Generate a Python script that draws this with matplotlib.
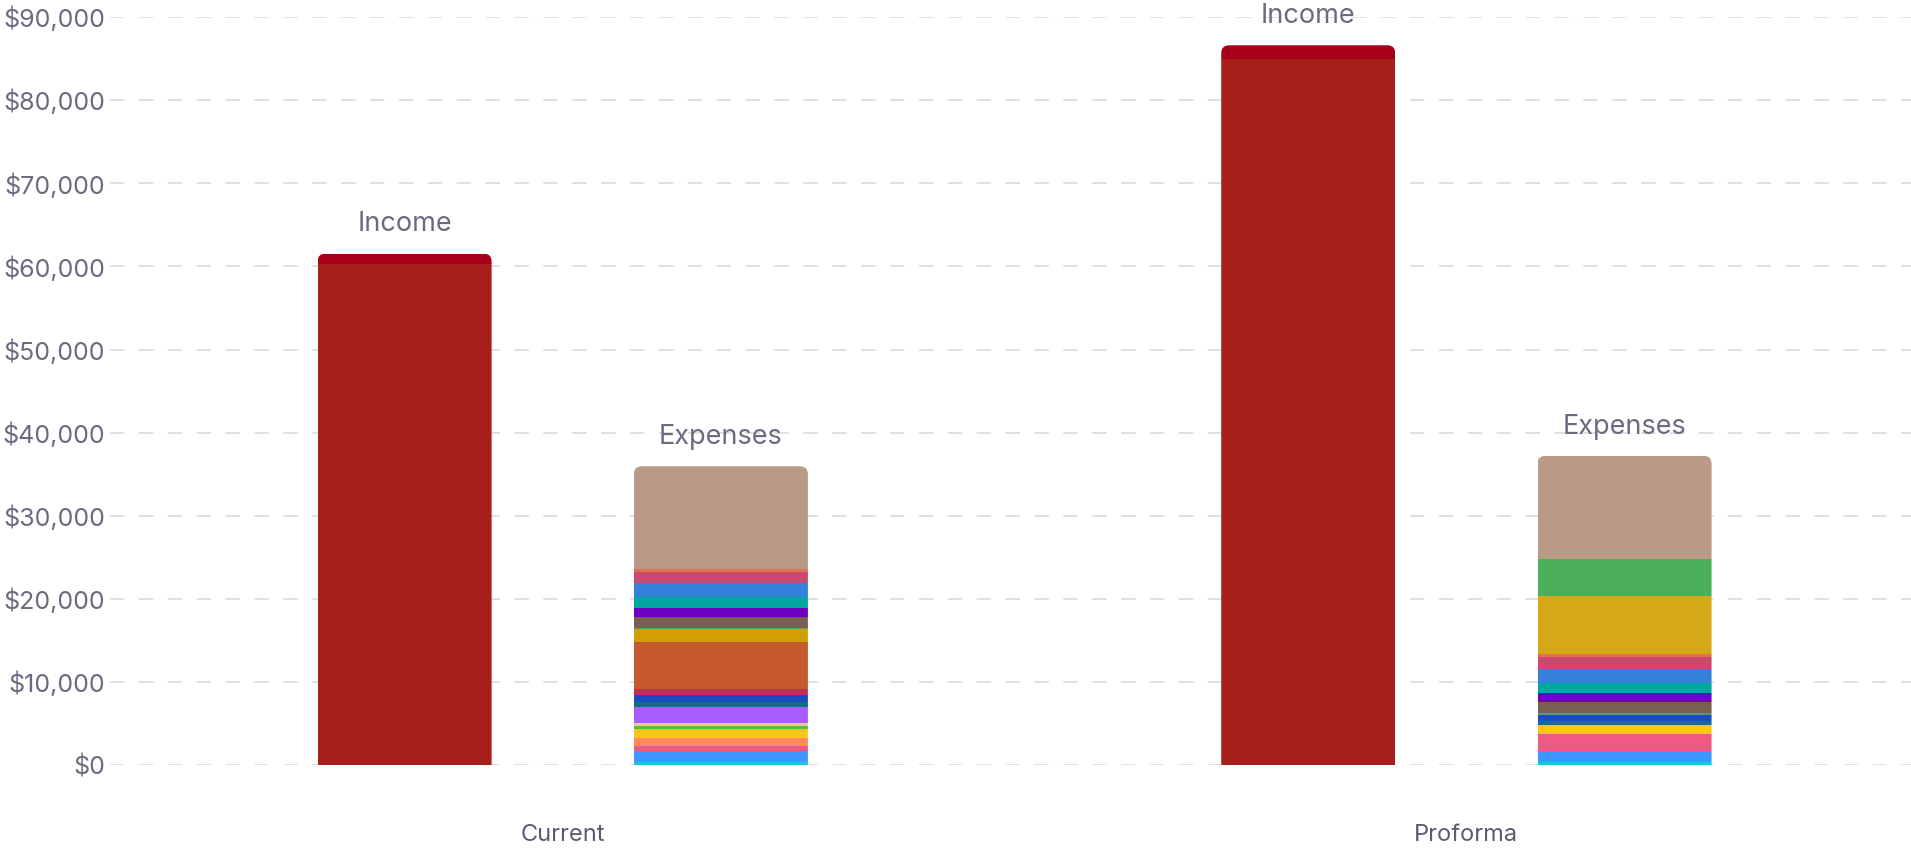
import numpy as np
import matplotlib.pyplot as plt
from matplotlib.patches import FancyBboxPatch
from matplotlib.ticker import FuncFormatter

plt.rcParams['font.family'] = ['Inter', 'DejaVu Sans']

groups = ["Current", "Proforma"]

income_main = [60300, 84900]
income_other = [1250, 1700]

# expense categories, bottom to top of the stack
expense_names = [
    "Utilities", "Water", "Repairs", "Supplies", "Trash", "Pest", "Landscaping",
    "Cleaning", "Advertising", "Legal", "Accounting", "Payroll", "Management",
    "Licenses", "Maintenance", "Turnover", "Internet", "Electric", "Gas",
    "Misc", "Reserves", "Capex", "Taxes & Insurance",
]
expense_current = [400, 1320, 600, 920, 1160, 320, 320, 2000, 600, 880, 680, 5600,
                   1600, 100, 1400, 1000, 1400, 1600, 1360, 360, 0, 0, 12350]
expense_proforma = [400, 1320, 2000, 0, 1120, 0, 0, 0, 480, 800, 0, 0,
                    0, 150, 1400, 1000, 1280, 1640, 1400, 400, 6960, 4520, 12360]
expense_colors = [
    "#1cc6d6", "#3d97ff", "#f05a80", "#ff8a5c", "#fdc51a", "#4cc04c", "#e8c8a0",
    "#a95cff", "#0e7080", "#1a4bc4", "#c42b58", "#c55a30", "#d0a000",
    "#5a9a70", "#7a5f50", "#7000c0", "#00a8a0", "#3580d8", "#c94a6e",
    "#e07050", "#d5a818", "#4caf5c", "#b89a86",
]
income_colors = ["#a61f1a", "#a8001a"]

label_color = "#6b6b80"

fig = plt.figure(figsize=(19.11, 8.51), dpi=100)
ax = fig.add_axes([110 / 1911, 1 - 765.4 / 851, 1 - 110 / 1911, (765.4 - 17) / 851])
ax.set_xlim(-0.501, 1.492)
ax.set_ylim(0, 90000)

x = np.arange(len(groups))
offset = 0.175
width = 0.1926

# pixel scale, for rounding the top corners
p0 = ax.transData.transform((0, 0))
p1 = ax.transData.transform((1, 1))
px_x = p1[0] - p0[0]
px_y = p1[1] - p0[1]
radius = 8 / px_x
aspect = px_x / px_y


def rounded_clip(xc, top):
    patch = FancyBboxPatch((xc - width / 2, -5000), width, top + 5000,
                           boxstyle=f"round,pad=0,rounding_size={radius}",
                           mutation_aspect=aspect, transform=ax.transData)
    return patch


def stack(xc, vals, colors):
    top = sum(vals)
    clip = rounded_clip(xc, top)
    bottom = 0
    for val, col in zip(vals, colors):
        if val == 0:
            continue
        bars = ax.bar(xc, val, width, bottom=bottom, color=col, linewidth=0, zorder=3)
        for b in bars:
            b.set_clip_path(clip)
        bottom += val
    return top


for i in range(len(groups)):
    xc = x[i] - offset
    top = stack(xc, [income_main[i], income_other[i]], income_colors)
    ax.annotate("Income", (xc, top), xytext=(0, 21), textcoords="offset points",
                ha="center", va="center", fontsize=19.5, color=label_color,
                annotation_clip=False)

    xc = x[i] + offset
    vals = expense_current if i == 0 else expense_proforma
    top = stack(xc, vals, expense_colors)
    ax.annotate("Expenses", (xc, top), xytext=(0, 21), textcoords="offset points",
                ha="center", va="center", fontsize=19.5, color=label_color,
                annotation_clip=False)

ax.set_yticks(np.arange(0, 90001, 10000))
ax.yaxis.set_major_formatter(FuncFormatter(lambda v, p: f"${v:,.0f}"))
ax.set_xticks(x)
ax.set_xticklabels(groups, fontsize=17, color="#5b5b70")
ax.tick_params(axis="y", length=0, pad=3.5, labelsize=18, labelcolor=label_color)
ax.tick_params(axis="x", length=0, pad=42)
ax.grid(axis="y", color="#dddddd", linestyle=(0, (8, 8)), linewidth=1.3, zorder=0)
for s in ax.spines.values():
    s.set_visible(False)

fig.savefig("out.png", dpi=100)
